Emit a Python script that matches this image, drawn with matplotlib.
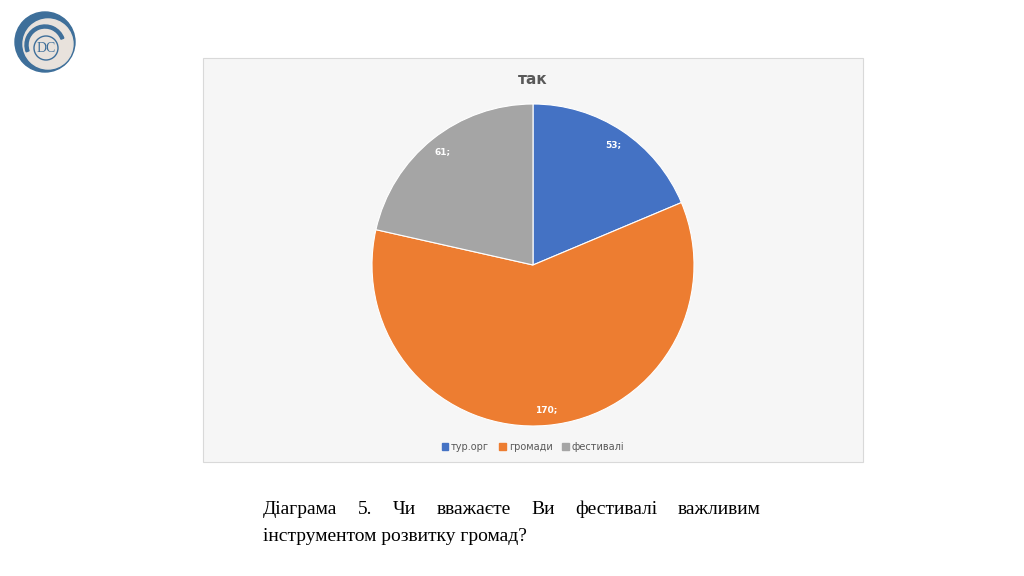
import matplotlib.pyplot as plt
from matplotlib.patches import Rectangle, Circle, Wedge

labels = ['тур.орг', 'громади', 'фестивалі']
values = [53, 170, 61]
colors = ['#4472c4', '#ed7d31', '#a5a5a5']
title = 'так'
caption1 = 'Діаграма 5. Чи вважаєте Ви фестивалі важливим'
caption2 = 'інструментом розвитку громад?'

W, H = 1024, 576
fig = plt.figure(figsize=(W / 100, H / 100), dpi=100)
fig.patch.set_facecolor('white')


def fx(x):
    return x / W


def fy(y):
    return 1 - y / H


# chart box
fig.patches.append(Rectangle((fx(203), fy(462)), fx(660), 404 / H, transform=fig.transFigure,
                             facecolor='#f6f6f6', edgecolor='#d9d9d9', lw=0.8, zorder=-5))

# pie
ax = fig.add_axes([fx(372), fy(426), fx(322), 322 / H])
wedges, texts = ax.pie(values, colors=colors, startangle=90, counterclock=False,
                       wedgeprops=dict(edgecolor='white', linewidth=0.8),
                       labels=[f'{v};' for v in values], labeldistance=0.9,
                       textprops=dict(color='white', fontsize=6.5, fontweight='bold'))
for t in texts:
    t.set_horizontalalignment('center')
ax.set_aspect('equal')
ax.set_xlim(-1, 1)
ax.set_ylim(-1, 1)

fig.text(fx(533), fy(80), title, ha='center', va='center', fontsize=11,
         fontweight='bold', color='#595959')

# legend
handles = [Rectangle((0, 0), 1, 1, color=c) for c in colors]
fig.legend(handles, labels, loc='center', bbox_to_anchor=(fx(533), fy(447)), ncol=3,
           frameon=False, fontsize=7, handlelength=0.7, handleheight=0.7,
           handletextpad=0.3, columnspacing=1.0, labelcolor='#595959')

# logo
lax = fig.add_axes([fx(8), fy(75), fx(75), 67 / H])
lax.set_xlim(0, 75)
lax.set_ylim(0, 67)
lax.set_aspect('equal')
lax.axis('off')
lax.add_patch(Circle((37, 33), 30, color='#3e6f9a'))
lax.add_patch(Circle((40, 31), 25, color='#e8e2dc'))
lax.add_patch(Wedge((37, 30), 20, 20, 200, width=3, color='#3e6f9a'))
lax.add_patch(Circle((38, 27), 12, facecolor='#e8e2dc', edgecolor='#3e6f9a', lw=1))
lax.text(38, 27, 'DC', ha='center', va='center', fontsize=10, family='Liberation Serif',
         color='#3e6f9a')

# caption, justified first line
fig.canvas.draw()
r = fig.canvas.get_renderer()
words = caption1.split()
x0, x1 = 263, 761
objs = [fig.text(0, fy(514), w, fontsize=14, family='Liberation Serif', va='baseline') for w in words]
widths = [o.get_window_extent(r).width for o in objs]
gap = (x1 - x0 - sum(widths)) / (len(words) - 1)
x = x0
for o, w in zip(objs, widths):
    o.set_x(fx(x))
    x += w + gap
fig.text(fx(263), fy(541), caption2, fontsize=14, family='Liberation Serif', va='baseline')

fig.savefig('out.png', dpi=100)
